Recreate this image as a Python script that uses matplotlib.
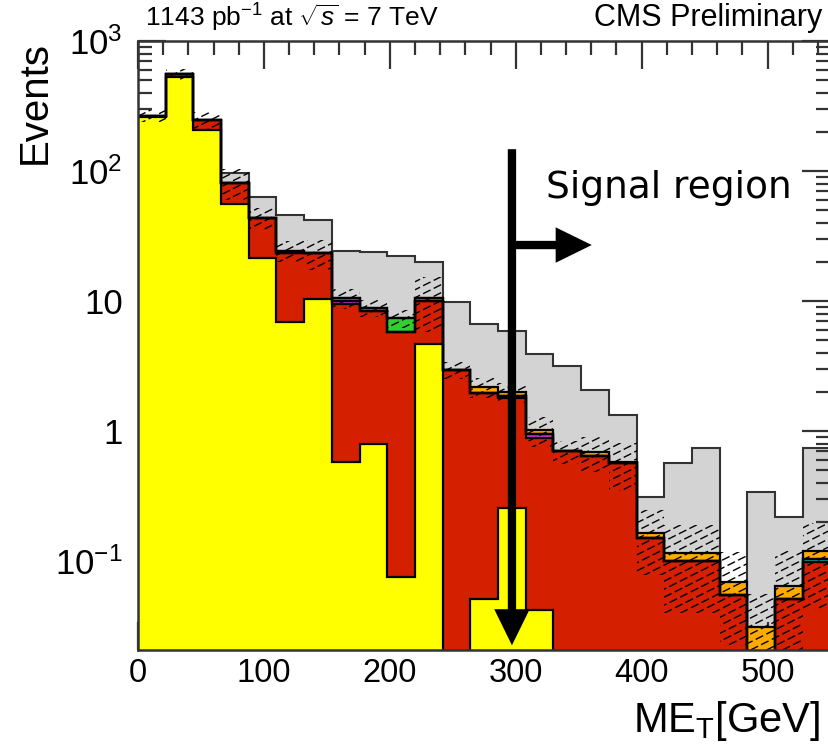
import numpy as np
import matplotlib
matplotlib.use("Agg")
import matplotlib.pyplot as plt
from matplotlib.patches import PathPatch, FancyArrowPatch
from matplotlib.path import Path
from matplotlib.collections import LineCollection
from matplotlib.ticker import FixedLocator, FixedFormatter, NullFormatter

plt.rcParams["font.family"] = ["Liberation Sans", "DejaVu Sans"]
plt.rcParams["mathtext.fontset"] = "custom"
plt.rcParams["mathtext.rm"] = "Liberation Sans"
plt.rcParams["mathtext.it"] = "Liberation Sans:italic"
plt.rcParams["mathtext.sf"] = "Liberation Sans"

# MET binning: 25 bins of 22 GeV
bin_edges = np.linspace(0, 550, 26)

# stacked backgrounds, bottom to top
yellow = [262, 529, 207, 56, 21.4, 6.97, 10.5, 0.583, 0.80, 0.076, 4.7, 0, 0.051, 0.256,
          0.042, 0, 0, 0, 0, 0, 0, 0, 0, 0, 0]
red = [6, 28, 41, 25.7, 22.6, 16.4, 12.9, 8.87, 7.67, 5.76, 5.35, 2.96, 1.93, 1.55,
       0.851, 0.705, 0.646, 0.574, 0.150, 0.101, 0.101, 0.055, 0, 0.051, 0.0993]
magenta = [0, 0, 0, 0, 0, 0, 0, 0.6, 0, 0, 0, 0, 0, 0.08, 0.06, 0, 0, 0, 0, 0, 0, 0, 0, 0, 0]
cyan = [0] * 24 + [0.005]
green = [0, 0, 0, 0, 0, 1.2, 0, 0.55, 0.47, 1.56, 0.6, 0, 0, 0, 0, 0, 0, 0, 0, 0, 0, 0, 0, 0, 0]
orange = [0, 0, 0, 0, 0, 0, 0, 0, 0, 0, 0, 0, 0.2, 0.11, 0.067, 0, 0.051, 0.01, 0.014,
          0.014, 0.014, 0.0147, 0.0314, 0.0136, 0.016]

# separate (unstacked) grey histogram drawn behind the stack
grey = [0, 0, 0, 97.5, 63.8, 46.0, 42.2, 24.5, 24.1, 22.2, 20.0, 9.8, 6.65, 5.94, 3.94,
        3.2, 2.08, 1.33, 0.314, 0.573, 0.74, 0, 0.343, 0.22, 0.74]

# relative uncertainty on the stacked total
rel_unc = [0.11, 0.10, 0.15, 0.27, 0.19, 0.18, 0.26, 0.17, 0.15, 0.15, 0.45, 0.15, 0.17,
           0.17, 0.26, 0.20, 0.30, 0.40, 0.52, 0.65, 0.65, 0.68, 0.77, 0.84, 0.64]

layers = [yellow, red, magenta, cyan, green, orange]
layer_colors = ["#ffff00", "#d42000", "#dd33dd", "#00cccc", "#33cc33", "#ffaa00"]

FLOOR = 1e-4
YMIN, YMAX = 0.0208, 1000

fig = plt.figure(figsize=(8.29, 7.44), dpi=100)
ax = fig.add_axes([138 / 829, 94 / 744, 692.5 / 829, 608.7 / 744])
ax.set_yscale("log")
ax.set_xlim(0, 550)
ax.set_ylim(YMIN, YMAX)

# grey histogram
grey_arr = np.clip(np.array(grey, float), FLOOR, None)
ax.stairs(grey_arr, bin_edges, baseline=FLOOR, fill=True, color="#d3d3d3", zorder=1)
ax.stairs(grey_arr, bin_edges, baseline=None, color="#333333", lw=1.5, zorder=1.5)

# stacked components
tops = []
bottom = np.full(25, FLOOR)
for vals, col in zip(layers, layer_colors):
    top = bottom + np.array(vals, float)
    ax.stairs(top, bin_edges, baseline=bottom, fill=True, color=col, zorder=2)
    tops.append(top)
    bottom = top
for top in tops:
    ax.stairs(top, bin_edges, baseline=None, color="black", lw=1.6, zorder=3)

# hatched uncertainty band around the stacked total
total = tops[-1]
err = total * np.array(rel_unc)
hi = np.clip(total + err, YMIN, YMAX)
lo = np.clip(total - err, YMIN, YMAX)
verts = []
for i in range(25):
    verts += [(bin_edges[i], hi[i]), (bin_edges[i + 1], hi[i])]
for i in range(24, -1, -1):
    verts += [(bin_edges[i + 1], lo[i]), (bin_edges[i], lo[i])]
verts.append(verts[0])
codes = [Path.MOVETO] + [Path.LINETO] * (len(verts) - 2) + [Path.CLOSEPOLY]
band = PathPatch(Path(verts, codes), facecolor="none", edgecolor="none", zorder=4)
ax.add_patch(band)

W, H = 692.5, 608.7
slope, spacing = 0.5, 8.0
segs = []
for c in np.arange(-slope * W, H, spacing):
    segs.append([(0, c / H), (1, (slope * W + c) / H)])
hatch = LineCollection(segs, transform=ax.transAxes, colors="black", linewidths=1.0,
                       linestyles=[(0, (6, 2.5))], zorder=4)
hatch.set_clip_path(band)
ax.add_collection(hatch)

# signal region marker
arrow_style = "simple,head_length=2.6,head_width=2.55,tail_width=0.6"
arrow_v = FancyArrowPatch((297, 148), (297, 0.0226), arrowstyle=arrow_style,
                          mutation_scale=10, fc="black", ec="none", shrinkA=0, shrinkB=0,
                          zorder=6)
ax.add_patch(arrow_v)
arrow_h = FancyArrowPatch((297, 27.1), (360.4, 27.1), arrowstyle=arrow_style,
                          mutation_scale=10, fc="black", ec="none", shrinkA=0, shrinkB=0,
                          zorder=6)
ax.add_patch(arrow_h)
ax.text(324, 62.3, "Signal region", ha="left", va="baseline", fontsize=27,
        family=["DejaVu Sans"], zorder=6)

# axes styling
for sp in ax.spines.values():
    sp.set_color("#333333")
    sp.set_linewidth(1.8)
    sp.set_zorder(7)
ax.set_xticks([0, 100, 200, 300, 400, 500])
ax.set_xticks(np.arange(0, 551, 20), minor=True)
ax.yaxis.set_major_locator(FixedLocator([0.1, 1, 10, 100, 1000]))
ax.yaxis.set_major_formatter(FixedFormatter([r"$10^{-1}$", "1", "10", r"$10^{2}$", r"$10^{3}$"]))
ax.yaxis.set_minor_locator(FixedLocator([m * 10.0 ** e for e in range(-2, 3) for m in range(2, 10)]))
ax.yaxis.set_minor_formatter(NullFormatter())
ax.tick_params(which="both", direction="in", top=True, right=True, color="#333333", width=1.6)
ax.tick_params(which="major", length=20)
ax.tick_params(which="minor", length=10)
ax.tick_params(axis="x", which="major", labelsize=23.5, pad=6)
ax.tick_params(axis="y", which="major", labelsize=25, pad=11)

fig.text(35 / 829, 1 - 102 / 744, "Events", rotation=90, ha="center", va="center", fontsize=29)
fig.text(820 / 829, 12 / 744, r"ME$_\mathregular{T}$[GeV]", ha="right", va="baseline", fontsize=30)
fig.text(145 / 829, 1 - 27 / 744, r"1143 pb$^{-1}$ at $\sqrt{s}$ = 7 TeV", ha="left",
         va="baseline", fontsize=19)
fig.text(822 / 829, 1 - 26 / 744, "CMS Preliminary", ha="right", va="baseline", fontsize=22)

fig.savefig("out.png", dpi=100)
